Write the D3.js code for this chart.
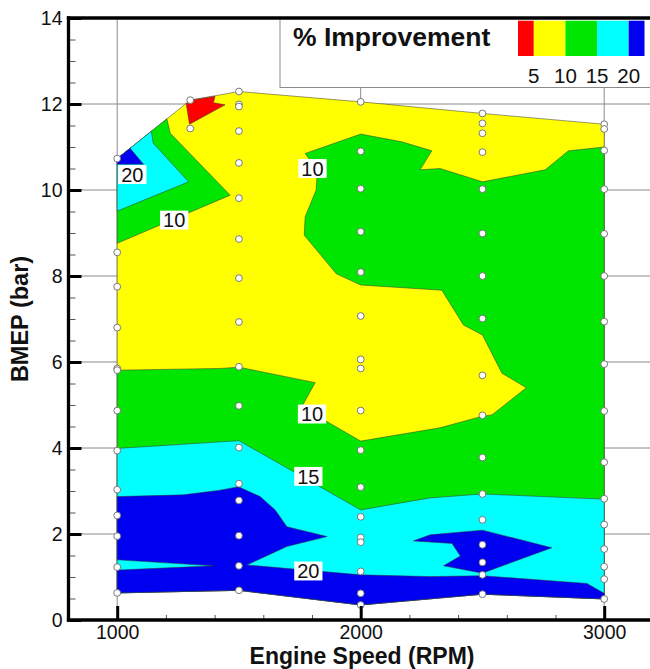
<!DOCTYPE html>
<html>
<head>
<meta charset="utf-8">
<script src="https://cdn.jsdelivr.net/npm/d3@7"></script>
<style>
  html, body { margin: 0; padding: 0; background: #fff; }
  svg { display: block; font-family: "Liberation Sans", Arial, Helvetica, sans-serif; }
</style>
</head>
<body>
<svg id="chart" width="650" height="669"></svg>
<script>
// Contour levels (% improvement) and the fill of each band, lowest band first
const levels = [5, 10, 15, 20];
const bandColors = ["#ff0000", "#ffff00", "#00e600", "#00ffff", "#0000f0"];
const legendTicks = ["5", "10", "15", "20"];

// Measured operating points: engine speed (RPM) and the BMEP (bar) values run at each speed
const speeds = [1000, 1300, 1500, 2000, 2500, 3000];
const bmep1000 = [10.73, 8.55, 7.75, 6.8, 5.85, 5.81, 4.87, 3.94, 3.03, 2.43, 1.95, 1.23, 0.63];
const bmep1300 = [12.09, 11.43];
const bmep1500 = [12.29, 11.99, 11.94, 11.37, 10.63, 9.81, 8.86, 7.95, 6.93, 5.89, 4.98, 4.01, 3.17, 2.78, 1.96, 1.26, 0.69];
const bmep2000 = [12.05, 10.9, 10.03, 9.03, 8.09, 7.07, 6.06, 5.85, 4.87, 3.95, 3.09, 2.4, 1.92, 1.81, 1.13, 0.62, 0.35];
const bmep2500 = [11.78, 11.55, 11.32, 10.88, 10.02, 8.99, 8.0, 7.01, 5.69, 4.76, 3.78, 2.93, 2.33, 1.75, 1.34, 1.05, 0.6];
const bmep3000 = [11.53, 11.42, 10.92, 10.02, 8.98, 8.0, 6.94, 5.95, 4.86, 3.67, 2.82, 2.22, 1.65, 1.24, 0.95, 0.49];
const bmepBySpeed = [bmep1000, bmep1300, bmep1500, bmep2000, bmep2500, bmep3000];

// Mapped region (outer edge of the measured points), [RPM, BMEP]
const mappedRegion = [
  [1000, 10.73], [1300, 12.09], [1500, 12.29], [2000, 12.05], [2500, 11.78], [3000, 11.53],
  [3000, 0.49], [2500, 0.6], [2000, 0.35], [1500, 0.69], [1000, 0.63]
];

// Improvement below 5 %
const below5 = [
  [1283, 12.01], [1300, 12.09], [1402, 12.18], [1395, 12.03], [1443, 11.98], [1297, 11.53]
];

// Improvement of 10 % and above
const atLeast10Corner = [
  [1000, 10.73], [1204, 11.655], [1218, 11.32], [1464, 9.88], [1000, 8.76]
];
const atLeast10Main = [
  [1000, 5.81], [1423, 5.85], [1500, 5.88], [1813, 5.52], [1758, 4.96], [1875, 4.57],
  [2000, 4.16], [2326, 4.47], [2500, 4.74], [2539, 4.77], [2680, 5.4], [2580, 5.74],
  [2500, 6.63], [2422, 6.86], [2333, 7.67], [2000, 7.79], [1900, 8.05], [1834, 8.5],
  [1768, 8.95], [1772, 9.38], [1817, 10.0], [1822, 10.45], [1772, 10.85], [2000, 11.3],
  [2169, 11.12], [2292, 10.91], [2244, 10.47], [2326, 10.5], [2500, 10.19], [2758, 10.47],
  [2853, 10.91], [3000, 11.0],
  [3000, 0.49], [2500, 0.6], [2000, 0.35], [1500, 0.69], [1000, 0.63]
];

// Improvement of 15 % and above
const atLeast15Corner = [
  [1000, 10.73], [1140, 11.365], [1148, 11.09], [1293, 10.19], [1000, 9.51]
];
const atLeast15Main = [
  [1000, 3.99], [1500, 4.17], [2000, 2.56], [2285, 2.84], [2500, 2.93], [3000, 2.81],
  [3000, 0.49], [2500, 0.6], [2000, 0.35], [1500, 0.69], [1000, 0.63]
];

// Improvement of 20 % and above
const atLeast20Corner = [
  [1000, 10.73], [1053, 10.97], [1108, 10.6], [1000, 10.6]
];
const atLeast20Main = [
  [1000, 2.87], [1271, 2.91], [1423, 3.02], [1498, 3.1], [1587, 2.87], [1649, 2.56],
  [1697, 2.17], [1862, 1.94], [1697, 1.71], [1533, 1.28], [2000, 1.05], [2285, 1.01],
  [2500, 1.03], [2929, 0.85], [3000, 0.62],
  [3000, 0.49], [2500, 0.6], [2000, 0.35], [1500, 0.69], [1000, 0.63],
  [1000, 1.16], [1395, 1.26], [1000, 1.4]
];
const atLeast20Island = [
  [2216, 1.84], [2285, 1.98], [2500, 2.09], [2785, 1.68], [2500, 1.09],
  [2340, 1.26], [2409, 1.49], [2375, 1.78]
];

// Inline contour labels: value and where it sits, [RPM, BMEP]
const contourLabelText = ["20", "10", "10", "10", "15", "20"];
const contourLabelAt = [[1062, 10.36], [1234, 9.3], [1802, 10.5], [1800, 4.79], [1785, 3.34], [1785, 1.14]];

// Axis ticks
const xMajor = [1000, 2000, 3000];
const yMajor = [0, 2, 4, 6, 8, 10, 12, 14];

// ---------------------------------------------------------------------------
const svg = d3.select("#chart");
const W = 650, H = 669;
const plotLeft = 68.5, plotTop = 18, plotBottom = 620;

const x = d3.scaleLinear().domain([800, 3200]).range([plotLeft, plotLeft + 2400 * 0.2435]);
const y = d3.scaleLinear().domain([0, 14]).range([plotBottom, plotTop]);
const plotRight = x(3200);

svg.append("rect").attr("width", W).attr("height", H).attr("fill", "#fff");

// Grid lines at the major ticks
const grid = svg.append("g").attr("stroke", "#8a8a8a").attr("stroke-width", 1);
grid.selectAll("line.gx").data(xMajor).join("line")
  .attr("x1", d => x(d)).attr("x2", d => x(d))
  .attr("y1", plotTop).attr("y2", plotBottom);
grid.selectAll("line.gy").data(yMajor.filter(v => v > 0 && v < 14)).join("line")
  .attr("x1", plotLeft).attr("x2", plotRight)
  .attr("y1", d => y(d)).attr("y2", d => y(d));

// Filled contour bands, painted from the lowest band upward
const area = d3.line().x(d => x(d[0])).y(d => y(d[1]));
const bands = svg.append("g");
const layers = [
  { poly: mappedRegion, fill: bandColors[1] },
  { poly: below5, fill: bandColors[0] },
  { poly: atLeast10Corner, fill: bandColors[2] },
  { poly: atLeast10Main, fill: bandColors[2] },
  { poly: atLeast15Corner, fill: bandColors[3] },
  { poly: atLeast15Main, fill: bandColors[3] },
  { poly: atLeast20Corner, fill: bandColors[4] },
  { poly: atLeast20Main, fill: bandColors[4] },
  { poly: atLeast20Island, fill: bandColors[4] }
];
bands.selectAll("path").data(layers).join("path")
  .attr("d", d => area(d.poly) + "Z")
  .attr("fill", d => d.fill)
  .attr("stroke", "#3a3a3a")
  .attr("stroke-opacity", 0.75)
  .attr("stroke-width", 0.7)
  .attr("stroke-linejoin", "round");

// Measured points
const points = speeds.flatMap((s, i) => bmepBySpeed[i].map(b => [s, b]));
svg.append("g").selectAll("circle").data(points).join("circle")
  .attr("cx", d => x(d[0])).attr("cy", d => y(d[1]))
  .attr("r", 3.4)
  .attr("fill", "#fff")
  .attr("stroke", "#6a6a6a")
  .attr("stroke-width", 0.9);

// Contour labels on white boxes
const labelSize = 20;
const labels = svg.append("g");
contourLabelText.forEach((t, i) => {
  const cx = x(contourLabelAt[i][0]), cy = y(contourLabelAt[i][1]);
  const g = labels.append("g");
  const txt = g.append("text")
    .attr("x", cx).attr("y", cy + labelSize * 0.716 / 2)
    .attr("text-anchor", "middle")
    .attr("font-size", labelSize)
    .attr("fill", "#111")
    .text(t);
  const w = txt.node().getComputedTextLength();
  g.insert("rect", "text")
    .attr("x", cx - w / 2 - 3).attr("y", cy - labelSize * 0.716 / 2 - 2.3)
    .attr("width", w + 6).attr("height", labelSize * 0.716 + 4.6)
    .attr("fill", "#fff");
});

// Legend
const legend = svg.append("g");
legend.append("rect")
  .attr("x", 280).attr("y", plotTop).attr("width", 380).attr("height", 69.5)
  .attr("fill", "#fff").attr("stroke", "#8a8a8a").attr("stroke-width", 1);
legend.append("text")
  .attr("x", 293).attr("y", 46)
  .attr("font-size", 26.5).attr("font-weight", "bold").attr("fill", "#111")
  .text("% Improvement");
const lx = d3.scaleLinear().domain([2.5, 22.5]).range([518, 644.5]);
const edges = [2.5, ...levels, 22.5];
legend.selectAll("rect.sw").data(bandColors).join("rect")
  .attr("class", "sw")
  .attr("x", (d, i) => lx(edges[i]))
  .attr("width", (d, i) => lx(edges[i + 1]) - lx(edges[i]))
  .attr("y", 20.7).attr("height", 35.3)
  .attr("fill", d => d);
legend.selectAll("text.lv").data(levels).join("text")
  .attr("class", "lv")
  .attr("x", d => lx(d)).attr("y", 83.3)
  .attr("text-anchor", "middle")
  .attr("font-size", 20.5).attr("fill", "#111")
  .text((d, i) => legendTicks[i]);

// Axes: inward major and minor ticks
function styleAxis(g, width, color) {
  g.select(".domain").remove();
  g.selectAll(".tick line").attr("stroke", color).attr("stroke-width", width);
  g.selectAll(".tick text").attr("fill", "#111").attr("font-size", 19.5)
    .attr("font-family", "Liberation Sans, Arial, sans-serif");
}
const xMinor = d3.range(800, 3201, 200).filter(v => !xMajor.includes(v));
const yMinor = d3.range(0, 14.01, 0.5).filter(v => !yMajor.includes(v));

svg.append("g").attr("transform", `translate(0,${plotBottom})`)
  .call(d3.axisBottom(x).tickValues(xMinor).tickSize(-5).tickFormat(""))
  .call(g => styleAxis(g, 1, "#555"));
svg.append("g").attr("transform", `translate(0,${plotBottom})`)
  .call(d3.axisBottom(x).tickValues(xMajor).tickSize(-14).tickPadding(5).tickFormat(d3.format("d")))
  .call(g => styleAxis(g, 3, "#000"));
svg.append("g").attr("transform", `translate(${plotLeft},0)`)
  .call(d3.axisLeft(y).tickValues(yMinor).tickSize(-7).tickFormat(""))
  .call(g => styleAxis(g, 1, "#555"));
svg.append("g").attr("transform", `translate(${plotLeft},0)`)
  .call(d3.axisLeft(y).tickValues(yMajor).tickSize(-13).tickPadding(6).tickFormat(d3.format("d")))
  .call(g => styleAxis(g, 3, "#000"));

// Frame
const frame = svg.append("g").attr("stroke", "#000").attr("stroke-width", 3.3).attr("stroke-linecap", "square");
frame.append("line").attr("x1", plotLeft).attr("x2", plotLeft).attr("y1", plotTop).attr("y2", plotBottom);
frame.append("line").attr("x1", plotLeft).attr("x2", plotRight).attr("y1", plotBottom).attr("y2", plotBottom);
frame.append("line").attr("x1", plotLeft).attr("x2", plotRight).attr("y1", plotTop).attr("y2", plotTop);

// Axis titles
svg.append("text")
  .attr("x", 362).attr("y", 664)
  .attr("text-anchor", "middle")
  .attr("font-size", 23).attr("font-weight", "bold").attr("fill", "#111")
  .text("Engine Speed (RPM)");
svg.append("text")
  .attr("transform", "translate(28,319) rotate(-90)")
  .attr("text-anchor", "middle")
  .attr("font-size", 23.5).attr("font-weight", "bold").attr("fill", "#111")
  .text("BMEP (bar)");
</script>
</body>
</html>
